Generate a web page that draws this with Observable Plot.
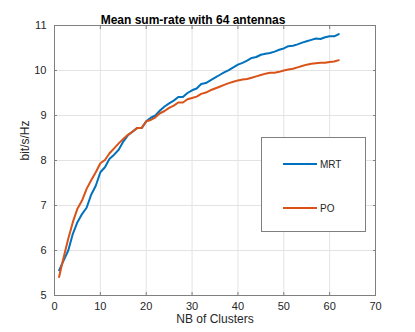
<!DOCTYPE html>
<html><head><meta charset="utf-8">
<script src="https://cdn.jsdelivr.net/npm/d3@7"></script>
<script src="https://cdn.jsdelivr.net/npm/@observablehq/plot@0.6"></script>
<style>
body{margin:0;background:#fff;font-family:"Liberation Sans",Arial,sans-serif}
#wrap{position:relative;width:415px;height:332px}
#wrap svg{display:block}
.legend{position:absolute;left:261px;top:137px;width:105px;height:95px;border:1px solid #7f7f7f;background:#fff;box-sizing:border-box;font-size:10px;color:#262626}
.legend .item{position:absolute;left:21px;height:12px;display:flex;align-items:center}
.legend .sw{width:34px;height:2px;margin-right:3px}
</style></head><body><div id="wrap"></div>
<script>
const clusters = [1,2,3,4,5,6,7,8,9,10,11,12,13,14,15,16,17,18,19,20,21,22,23,24,25,26,27,28,29,30,31,32,33,34,35,36,37,38,39,40,41,42,43,44,45,46,47,48,49,50,51,52,53,54,55,56,57,58,59,60,61,62];
const mrt = [5.56,5.78,6.0,6.37,6.63,6.81,6.95,7.24,7.44,7.74,7.85,8.04,8.13,8.24,8.42,8.56,8.64,8.72,8.72,8.87,8.95,9.0,9.11,9.2,9.27,9.33,9.41,9.41,9.5,9.56,9.6,9.7,9.72,9.78,9.84,9.9,9.96,10.01,10.07,10.13,10.17,10.22,10.28,10.3,10.35,10.37,10.39,10.42,10.46,10.49,10.54,10.55,10.58,10.62,10.65,10.68,10.71,10.7,10.74,10.76,10.76,10.81];
const po = [5.41,5.85,6.26,6.63,6.93,7.11,7.37,7.56,7.74,7.94,8.01,8.16,8.27,8.38,8.48,8.57,8.64,8.72,8.72,8.87,8.9,8.96,9.05,9.1,9.17,9.22,9.29,9.29,9.36,9.39,9.42,9.48,9.51,9.56,9.6,9.64,9.68,9.72,9.75,9.78,9.8,9.81,9.84,9.87,9.9,9.93,9.95,9.95,9.97,10.0,10.02,10.04,10.07,10.1,10.13,10.15,10.16,10.17,10.17,10.19,10.2,10.23];
const xTicks = [0,10,20,30,40,50,60,70];
const yTicks = [5,6,7,8,9,10,11];
const seriesNames = ["MRT","PO"];
const seriesColors = ["#0072BD","#D95319"];
const title = "Mean sum-rate with 64 antennas";
const xLabel = "NB of Clusters";
const yLabel = "bit/s/Hz";

const rows = [];
[mrt, po].forEach((vals, s) => vals.forEach((v, i) => rows.push({x: clusters[i], y: v, series: seriesNames[s]})));

const axisColor = "#7f7f7f";
const chart = Plot.plot({
  width: 415, height: 332,
  marginLeft: 54, marginRight: 40, marginTop: 25, marginBottom: 37,
  style: {fontFamily: "Liberation Sans, Arial, sans-serif", fontSize: "11px", color: "#262626", background: "#fff"},
  x: {domain: [0, 70]},
  y: {domain: [5, 11]},
  color: {domain: seriesNames, range: seriesColors},
  marks: [
    Plot.gridX(xTicks, {stroke: "#e3e3e3", strokeOpacity: 1}),
    Plot.gridY(yTicks, {stroke: "#e3e3e3", strokeOpacity: 1}),
    Plot.line(rows, {x: "x", y: "y", z: "series", stroke: "series", strokeWidth: 2}),
    Plot.frame({stroke: axisColor}),
    Plot.axisX(xTicks, {anchor: "bottom", tickSize: -3, tickPadding: 10, fontSize: 11, label: null, stroke: axisColor}),
    Plot.axisX(xTicks, {anchor: "top", tickSize: -3, tickFormat: () => "", label: null, stroke: axisColor}),
    Plot.axisY(yTicks, {anchor: "left", tickSize: -3, tickPadding: 11, fontSize: 11, label: null, stroke: axisColor}),
    Plot.axisY(yTicks, {anchor: "right", tickSize: -3, tickFormat: () => "", label: null, stroke: axisColor}),
    Plot.text([title], {text: d => d, frameAnchor: "top", dx: -22, dy: -10, fontWeight: "bold", fontSize: 12, fill: "#000"}),
    Plot.text([xLabel], {text: d => d, frameAnchor: "bottom", dy: 27, fontSize: 12, fill: "#262626"}),
    Plot.text([yLabel], {text: d => d, frameAnchor: "left", dx: -29, rotate: -90, fontSize: 12, fill: "#262626"})
  ]
});
const wrap = document.getElementById("wrap");
wrap.appendChild(chart);
const leg = document.createElement("div");
leg.className = "legend";
const tops = [20, 64];
seriesNames.forEach((n, i) => {
  const it = document.createElement("div");
  it.className = "item";
  it.style.top = tops[i] + "px";
  const sw = document.createElement("div");
  sw.className = "sw";
  sw.style.background = seriesColors[i];
  const t = document.createElement("span");
  t.textContent = n;
  it.appendChild(sw); it.appendChild(t);
  leg.appendChild(it);
});
wrap.appendChild(leg);
</script></body></html>
